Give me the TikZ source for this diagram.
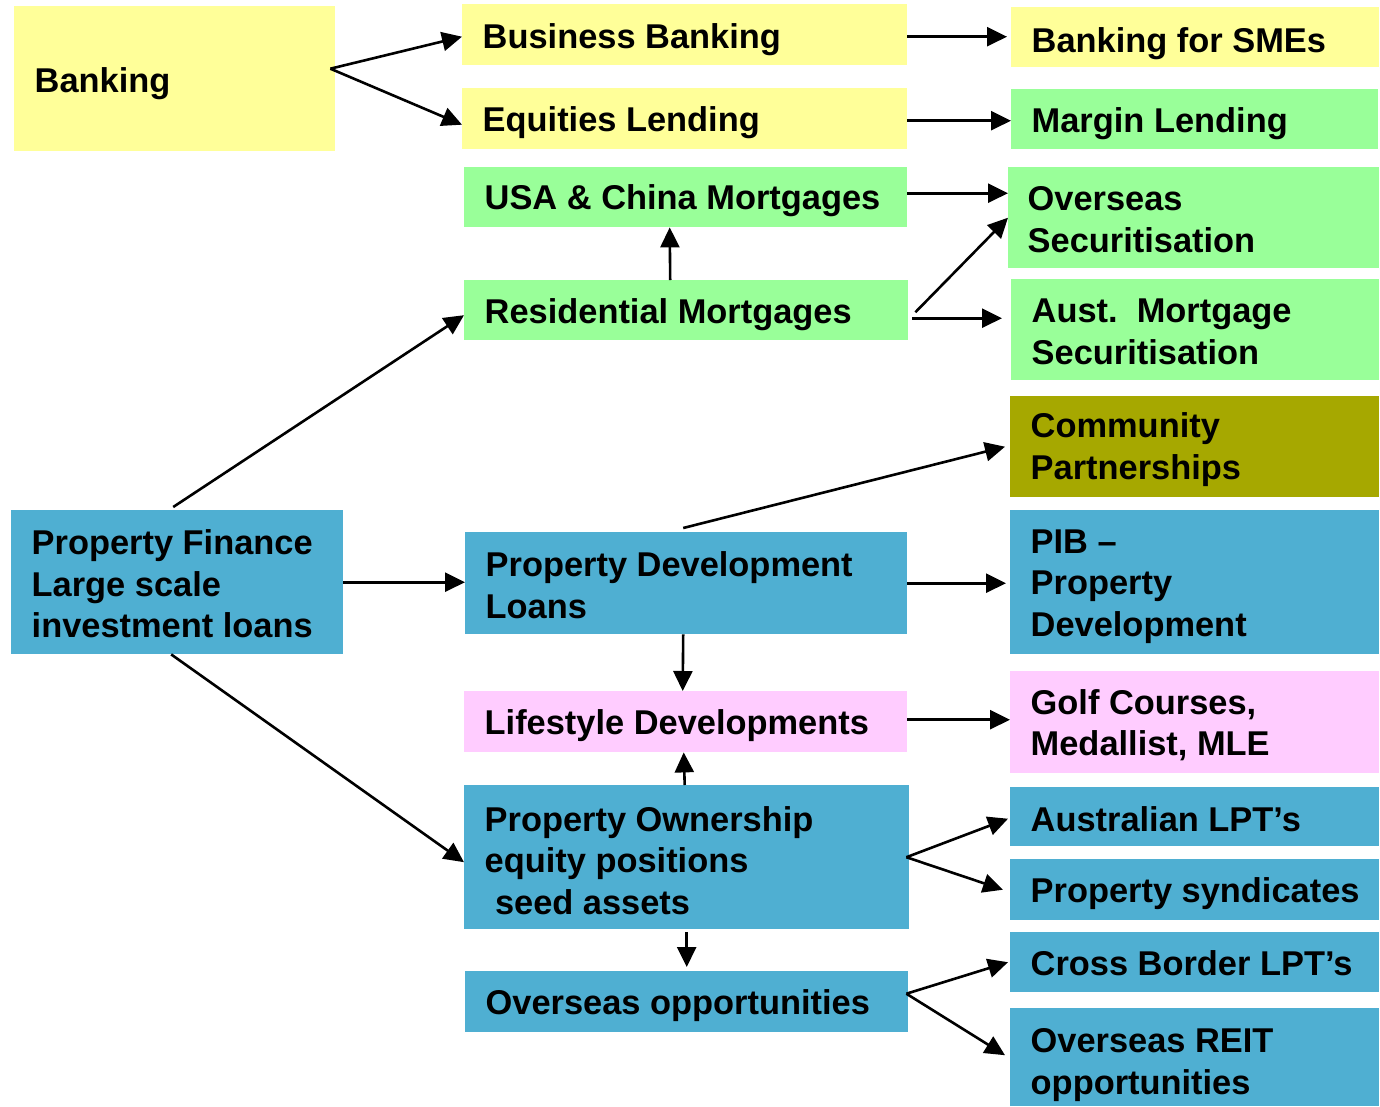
\documentclass[tikz,border=0pt]{standalone}
\usepackage{fontspec}
\setmainfont{Liberation Sans}
\usetikzlibrary{arrows.meta,calc}
\definecolor{yel}{HTML}{FFFF99}
\definecolor{grn}{HTML}{99FF99}
\definecolor{olv}{HTML}{A6A800}
\definecolor{blu}{HTML}{4FAFD2}
\definecolor{pnk}{HTML}{FFCCFF}
\begin{document}
\begin{tikzpicture}[x=1pt,y=-1pt,
  bx/.style={anchor=north west, inner sep=0pt, draw=none},
  sz/.style 2 args={minimum width=#1pt, minimum height=#2pt},
  tx/.style={anchor=west, inner xsep=20.5pt, inner ysep=0pt, align=left,
    font=\bfseries\fontsize{34.4}{41.5}\selectfont},
  arr/.style={-{Triangle[length=20pt,width=19pt]}, line width=2.6pt}]
\useasboundingbox (0,0) rectangle (1380,1106);
% boxes: left column
\node[bx, fill=yel, sz={321}{145}] (bank) at (14,6) {};
\node[bx, fill=blu, sz={332}{144}] (pf) at (11,510) {};
% middle column
\node[bx, fill=yel, sz={445}{61}] (bb) at (462,4) {};
\node[bx, fill=yel, sz={445}{61}] (el) at (462,88) {};
\node[bx, fill=grn, sz={443}{60}] (usa) at (464,167) {};
\node[bx, fill=grn, sz={444}{60}] (rm) at (464,280) {};
\node[bx, fill=blu, sz={442}{102}] (pdl) at (465,532) {};
\node[bx, fill=pnk, sz={443}{61}] (ls) at (464,691) {};
\node[bx, fill=blu, sz={445}{144}] (own) at (464,785) {};
\node[bx, fill=blu, sz={443}{61}] (oo) at (465,971) {};
% right column
\node[bx, fill=yel, sz={368}{60}] (sme) at (1011,7) {};
\node[bx, fill=grn, sz={367}{60}] (ml) at (1011,89) {};
\node[bx, fill=grn, sz={371}{101}] (os) at (1008,167) {};
\node[bx, fill=grn, sz={368}{101}] (aus) at (1011,279) {};
\node[bx, fill=olv, sz={369}{101}] (cp) at (1010,396) {};
\node[bx, fill=blu, sz={369}{144}] (pib) at (1010,510) {};
\node[bx, fill=pnk, sz={369}{102}] (golf) at (1010,671) {};
\node[bx, fill=blu, sz={369}{59}] (alpt) at (1010,787) {};
\node[bx, fill=blu, sz={369}{61}] (ps) at (1010,859) {};
\node[bx, fill=blu, sz={369}{60}] (cb) at (1010,932) {};
\node[bx, fill=blu, sz={369}{98}] (reit) at (1010,1008) {};
% texts
\node[tx] (bankt) at ([yshift=-5pt]bank.west) {Banking};
\node[tx] (pft) at ([yshift=-1.5pt]pf.west) {Property Finance\\Large scale\\investment loans};
\node[tx] (bbt) at ([yshift=-5pt]bb.west) {Business Banking};
\node[tx] (elt) at ([yshift=-4pt]el.west) {Equities Lending};
\node[tx] (usat) at ([yshift=-3pt]usa.west) {USA \& China Mortgages};
\node[tx] (rmt) at ([yshift=-4pt]rm.west) {Residential Mortgages};
\node[tx] (pdlt) at ([yshift=-2pt]pdl.west) {Property Development\\Loans};
\node[tx] (lst) at ([yshift=-4pt]ls.west) {Lifestyle Developments};
\node[tx] (ownt) at ([yshift=-3pt]own.west) {Property Ownership\\equity positions\\\hspace*{0.3em}seed assets};
\node[tx] (oot) at ([yshift=-4pt]oo.west) {Overseas opportunities};
\node[tx] (smet) at ([yshift=-6pt]sme.west) {Banking for SMEs};
\node[tx] (mlt) at ([yshift=-4pt]ml.west) {Margin Lending};
\node[tx, xshift=-1pt] (ost) at ([yshift=-2pt]os.west) {Overseas\\Securitisation};
\node[tx] (aust) at ([yshift=-2pt]aus.west) {Aust.\ \ Mortgage\\Securitisation};
\node[tx] (cpt) at ([yshift=-3pt]cp.west) {Community\\Partnerships};
\node[tx] (pibt) at ([yshift=-4.5pt]pib.west) {PIB --\\Property\\Development};
\node[tx] (golft) at ([yshift=-3pt]golf.west) {Golf Courses,\\Medallist, MLE};
\node[tx] (alptt) at ([yshift=-2pt]alpt.west) {Australian LPT’s};
\node[tx] (pst) at ([yshift=-4pt]ps.west) {Property syndicates};
\node[tx] (cbt) at ([yshift=-1pt]cb.west) {Cross Border LPT’s};
\node[tx] (reitt) at ([yshift=-8pt]reit.west) {Overseas REIT\\opportunities};
% connectors
\coordinate (bk) at ([xshift=-5pt,yshift=10pt]bank.east);
\draw[arr] (bk) -- ([yshift=-2pt]bb.west);
\draw[arr] (bk) -- ([yshift=-6pt]el.west);
\draw[arr] ($(bb.east)+(0,2)$) -- ($(bb.east -| sme.west)+(-4,2)$);
\draw[arr] ($(el.east)+(0,2)$) -- ($(el.east -| ml.west)+(0,2)$);
\draw[arr] ($(usa.east)+(0,-4)$) -- ($(usa.east -| os.west)+(0,-4)$);
\draw[arr] ([xshift=-16pt]rm.north) -- ([xshift=-16pt]usa.south);
\draw[arr] ([xshift=7pt,yshift=-2pt]rm.east) -- (os.west);
\draw[arr] ($(rm.east)+(4,8)$) -- ($(rm.east -| aus.west)+(-9,8)$);
\draw[arr] ([xshift=-4pt,yshift=3pt]pf.north) -- ([yshift=-5pt]rm.west);
\draw[arr] (pf.east) -- (pf.east -| pdl.west);
\draw[arr] ([xshift=-6pt]pf.south) -- ([yshift=-5pt]own.west);
\draw[arr] ([xshift=-3pt,yshift=4pt]pdl.north) -- ([xshift=-5pt]cp.west);
\draw[arr] (pdl.east) -- ([xshift=-4pt]pdl.east -| pib.west);
\draw[arr] ([xshift=-3pt]pdl.south) -- ([xshift=-3pt]ls.north);
\draw[arr] ($(ls.east)+(0,-2)$) -- ($(ls.east -| golf.west)+(0,-2)$);
\draw[arr] ([xshift=-2pt]own.north) -- ([xshift=-2pt]ls.south);
\draw[arr] ([xshift=-3pt]own.east) -- ([xshift=-2pt,yshift=-2pt]alpt.west);
\draw[arr] ([xshift=-3pt]own.east) -- ([xshift=-7pt]ps.west);
\draw[arr, shorten <=3pt, shorten >=4pt] (own.south) -- (oo.north);
\draw[arr] ([xshift=-2pt,yshift=8pt]oo.east) -- ([xshift=-2pt]cb.west);
\draw[arr] ([xshift=-2pt,yshift=8pt]oo.east) -- ([xshift=-5pt,yshift=2pt]reit.west);
\end{tikzpicture}
\end{document}
